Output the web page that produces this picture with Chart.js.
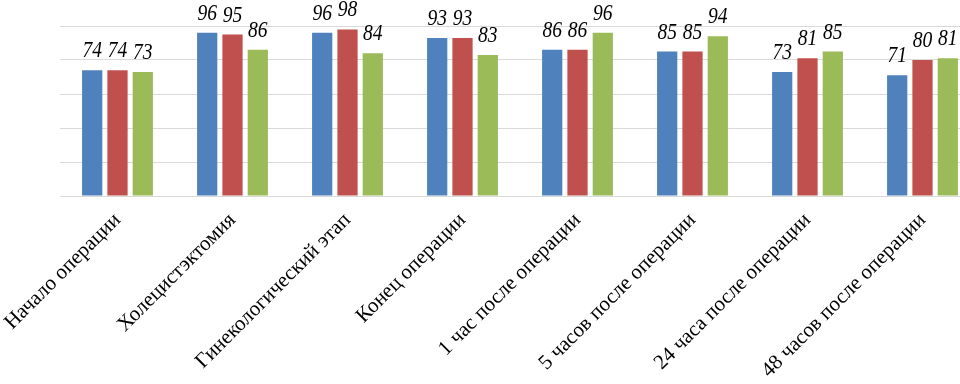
<!DOCTYPE html>
<html>
<head>
<meta charset="utf-8">
<script src="https://cdn.jsdelivr.net/npm/chart.js@4/dist/chart.umd.min.js"></script>
<style>
  html, body { margin: 0; padding: 0; background: #fff; overflow: hidden; }
  #wrap { width: 990px; height: 384px; position: relative; }
</style>
</head>
<body>
<div id="wrap"><canvas id="chart"></canvas></div>
<script>
var categories = ['Начало операции', 'Холецистэктомия', 'Гинекологический этап', 'Конец операции',
  '1 час после операции', '5 часов после операции', '24 часа после операции', '48 часов после операции'];
var seriesBlue = [74, 96, 96, 93, 86, 85, 73, 71];
var seriesRed = [74, 95, 98, 93, 86, 85, 81, 80];
var seriesGreen = [73, 86, 84, 83, 96, 94, 85, 81];
var yTicks = [0, 20, 40, 60, 80, 100];

var serif = "'Times New Roman', 'Liberation Serif', serif";

// value labels above each bar, italic serif like the original
var barLabels = {
  id: 'barLabels',
  afterDatasetsDraw: function(chart) {
    var ctx = chart.ctx;
    ctx.save();
    ctx.fillStyle = '#000';
    ctx.font = 'italic 23px ' + serif;
    ctx.textAlign = 'center';
    ctx.textBaseline = 'alphabetic';
    chart.data.datasets.forEach(function(ds, i) {
      chart.getDatasetMeta(i).data.forEach(function(bar, j) {
        ctx.save();
        ctx.translate(bar.x, bar.y - 13);
        ctx.scale(0.85, 1);
        ctx.fillText(String(ds.data[j]), 0, 0);
        ctx.restore();
      });
    });
    ctx.restore();
  }
};

var ctx = document.getElementById('chart').getContext('2d');
var chart = new Chart(ctx, {
  type: 'bar',
  data: {
    labels: categories,
    datasets: [
      { label: 'blue', data: seriesBlue, backgroundColor: '#4F81BD' },
      { label: 'red', data: seriesRed, backgroundColor: '#C0504D' },
      { label: 'green', data: seriesGreen, backgroundColor: '#9BBB59' }
    ]
  },
  options: {
    responsive: true,
    maintainAspectRatio: false,
    animation: false,
    categoryPercentage: 0.66,
    barPercentage: 0.8,
    layout: { padding: { top: 26, left: 0, right: 10, bottom: 0 } },
    plugins: { legend: { display: false }, tooltip: { enabled: false } },
    scales: {
      x: {
        grid: { display: false },
        border: { display: false },
        ticks: {
          minRotation: 45, maxRotation: 45,
          color: '#000',
          padding: 4,
          font: { family: serif, size: 21 }
        },
        afterFit: function(scale) { scale.height = 188; }
      },
      y: {
        min: 0, max: 100,
        afterBuildTicks: function(scale) { scale.ticks = yTicks.map(function(v) { return { value: v }; }); },
        ticks: { display: false },
        border: { display: false },
        grid: { color: '#D9D9D9', lineWidth: 1, drawTicks: false },
        afterFit: function(scale) { scale.width = 60; }
      }
    }
  },
  plugins: [barLabels]
});
</script>
</body>
</html>
